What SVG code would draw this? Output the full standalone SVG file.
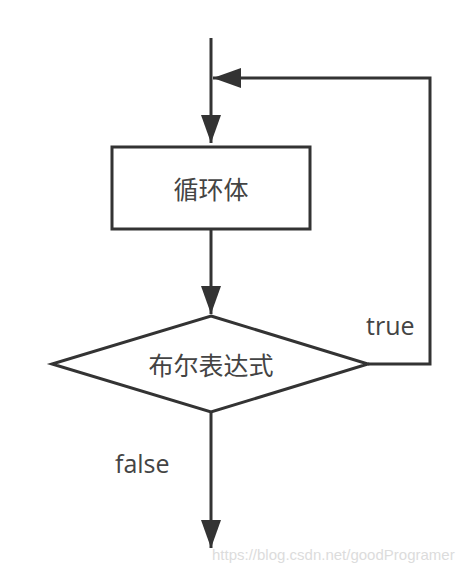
<svg xmlns="http://www.w3.org/2000/svg" width="476" height="574" viewBox="0 0 476 574">
<style>
.shape{fill:#fff;stroke:#333;stroke-width:3}
.conn{fill:none;stroke:#333;stroke-width:3}
.cjk{font-family:"Noto Sans CJK SC","Noto Sans",sans-serif;font-size:25px;fill:#444;text-anchor:middle}
.lbl{font-family:"Open Sans","Noto Sans",sans-serif;font-size:25px;fill:#444}
.wm{font-family:"Liberation Sans",Arial,sans-serif;font-size:15px;fill:#dcdcdc}
</style>
<defs>
<marker id="arrow" viewBox="0 0 28 20" refX="28" refY="10" markerWidth="28" markerHeight="20" markerUnits="userSpaceOnUse" orient="auto">
<path d="M0,0 L28,10 L0,20 Z" fill="#333"/>
</marker>
</defs>
<rect width="476" height="574" fill="#fff"/>
<g id="connectors">
<path class="conn" d="M211,38 V143" marker-end="url(#arrow)"/>
<path class="conn" d="M211,229 V314" marker-end="url(#arrow)"/>
<path class="conn" d="M368,364 H430 V78 H213" marker-end="url(#arrow)"/>
<path class="conn" d="M211,412 V548" marker-end="url(#arrow)"/>
<text class="lbl" x="366" y="335">true</text>
<text class="lbl" x="115" y="473">false</text>
</g>
<g id="loop-body">
<rect class="shape" x="112" y="147" width="198" height="82"/>
<text class="cjk" x="211" y="199">循环体</text>
</g>
<g id="condition">
<polygon class="shape" points="211,316 368,364 211,412 52,364"/>
<text class="cjk" x="211" y="375">布尔表达式</text>
</g>
<text class="wm" x="212" y="560">https://blog.csdn.net/goodProgramer</text>
</svg>
